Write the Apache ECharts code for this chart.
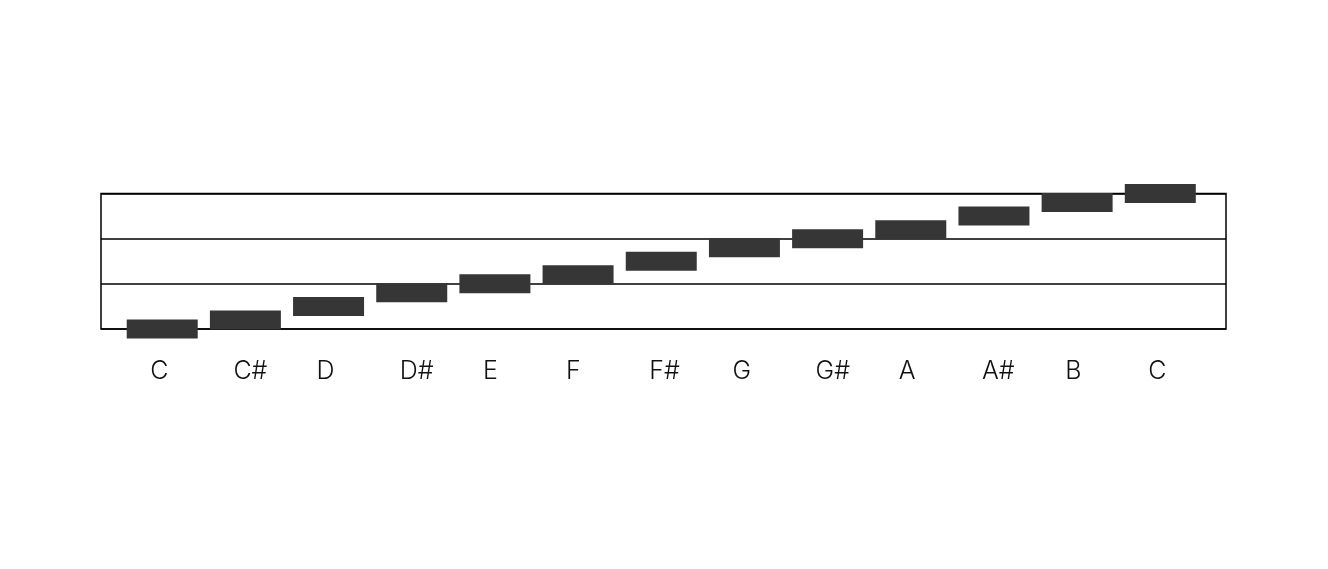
<!DOCTYPE html>
<html>
<head>
<meta charset="utf-8">
<script src="https://cdn.jsdelivr.net/npm/echarts@6/dist/echarts.min.js"></script>
<style>
  html, body { margin: 0; padding: 0; background: #fff; }
  #main { width: 1328px; height: 569px; }
</style>
</head>
<body>
<div id="main"></div>
<script>
// chromatic scale, one note per step
var notes = ["C", "C#", "D", "D#", "E", "F", "F#", "G", "G#", "A", "A#", "B", "C"];
// height of each note on the staff (10 = one line)
var pitch = [0, 2, 5, 8, 10, 12, 15, 18, 20, 22, 25, 28, 30];
var staffTicks = [0, 10, 20, 30];

// labels sit left-aligned a little before each note
var labelShift = 0.144;

var chart = echarts.init(document.getElementById("main"));

chart.setOption({
  animation: false,
  grid: {
    left: 101,
    right: 102,
    top: 193.5,
    bottom: 240,
    show: true,
    borderColor: "#000",
    borderWidth: 1.5,
    backgroundColor: "transparent"
  },
  xAxis: {
    type: "value",
    min: -0.736,
    max: 12.79,
    axisLine: { show: false },
    axisTick: { show: false },
    splitLine: { show: false },
    axisLabel: {
      customValues: notes.map(function (n, i) { return i - labelShift; }),
      formatter: function (v) {
        return notes[Math.round(v + labelShift)];
      },
      align: "left",
      margin: 30,
      fontSize: 25,
      fontWeight: 300,
      fontFamily: "Inter, Liberation Sans, sans-serif",
      color: "#111"
    }
  },
  yAxis: {
    type: "value",
    min: staffTicks[0],
    max: staffTicks[staffTicks.length - 1],
    interval: staffTicks[1] - staffTicks[0],
    axisLine: { show: false },
    axisTick: { show: false },
    axisLabel: { show: false },
    splitLine: { lineStyle: { color: "#000", width: 1.5 } }
  },
  series: [{
    type: "scatter",
    clip: false,
    symbol: "rect",
    symbolSize: [71, 19],
    itemStyle: { color: "#363636", opacity: 1 },
    data: pitch.map(function (p, i) { return [i, p]; })
  }]
});
</script>
</body>
</html>
